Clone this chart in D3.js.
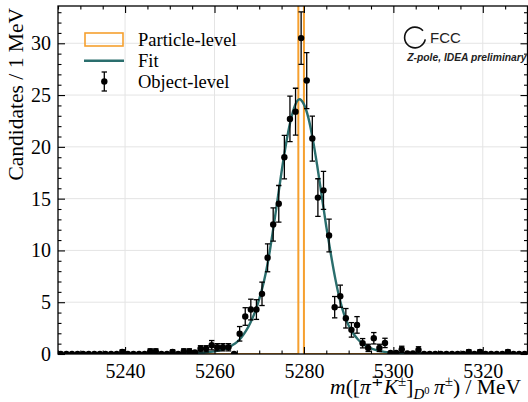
<!DOCTYPE html>
<html>
<head>
<meta charset="utf-8">
<script src="https://cdn.jsdelivr.net/npm/d3@7/dist/d3.min.js"></script>
<style>
  html, body { margin: 0; padding: 0; background: #fff; }
  svg { display: block; }
  .serif { font-family: "Liberation Serif", "Times New Roman", serif; }
  .sans { font-family: "Liberation Sans", Arial, sans-serif; }
</style>
</head>
<body>
<svg id="chart" width="528" height="402"></svg>
<script>
// Binning of the invariant-mass histogram (MeV)
const massRange = [5225, 5330];
const binWidth = 1.25;
const binEdges = d3.range(massRange[0], massRange[1] + 1e-9, binWidth);

// Object-level candidates per bin, with their uncertainties
const objectLevel = [
  0, 0, 0, 0, 0, 0, 0, 0, 0, 0,
  0, 0.2, 0, 0, 0, 0, 0.25, 0.25, 0, 0,
  0.2, 0, 0.25, 0.25, 0.15, 0.5, 0.5, 0.85, 0.65, 0.65,
  0.65, 0, 1.95, 3.62, 4.29, 4.29, 5.81, 9.29, 12.5, 14.5,
  19.0, 22.7, 23.4, 30.5, 26.4, 20.8, 15.1, 15.8, 11.45, 4.52,
  5.58, 3.45, 2.33, 2.81, 1.04, 0.59, 1.52, 0.59, 1.07, 0.1,
  0.1, 0.45, 0.05, 0.05, 0.4, 0, 0, 0, 0, 0,
  0, 0, 0, 0.2, 0, 0.2, 0, 0, 0, 0,
  0.2, 0, 0, 0
];
const objectLevelErr = [
  0, 0, 0, 0, 0, 0, 0, 0, 0, 0,
  0, 0.2, 0, 0, 0, 0, 0.25, 0.25, 0, 0,
  0.2, 0, 0.25, 0.25, 0.15, 0.3, 0.3, 0.45, 0.35, 0.35,
  0.35, 0, 0.7, 0.85, 1.0, 0.95, 1.13, 1.35, 1.6, 1.77,
  2.1, 2.2, 2.26, 2.53, 2.7, 2.17, 1.82, 1.84, 1.58, 1.03,
  1.07, 0.94, 0.7, 0.8, 0.45, 0.35, 0.55, 0.35, 0.45, 0.1,
  0.1, 0.3, 0.05, 0.05, 0.3, 0, 0, 0, 0, 0,
  0, 0, 0, 0.2, 0, 0.2, 0, 0, 0, 0,
  0.2, 0, 0, 0
];

// Particle-level candidates per bin (all in one bin)
const particleLevel = [
  0, 0, 0, 0, 0, 0, 0, 0, 0, 0,
  0, 0, 0, 0, 0, 0, 0, 0, 0, 0,
  0, 0, 0, 0, 0, 0, 0, 0, 0, 0,
  0, 0, 0, 0, 0, 0, 0, 0, 0, 0,
  0, 0, 0, 360, 0, 0, 0, 0, 0, 0,
  0, 0, 0, 0, 0, 0, 0, 0, 0, 0,
  0, 0, 0, 0, 0, 0, 0, 0, 0, 0,
  0, 0, 0, 0, 0, 0, 0, 0, 0, 0,
  0, 0, 0, 0
];

// Fitted line shape, sampled along the mass axis
const fitMass = [5225, 5245, 5250, 5255, 5258, 5260, 5262, 5263, 5264, 5265,
  5266, 5267, 5268, 5269, 5270, 5271, 5272, 5273, 5274, 5275,
  5276, 5277, 5278, 5279, 5280, 5281, 5282, 5283, 5284, 5285,
  5286, 5287, 5288, 5289, 5290, 5291, 5292, 5293, 5294, 5295,
  5296, 5298, 5300, 5305, 5330];
const fitValue = [0.0, 0.01, 0.03, 0.07, 0.14, 0.25, 0.45, 0.62, 0.85, 1.15,
  1.6, 2.2, 3.0, 4.0, 5.3, 6.9, 9.0, 11.7, 14.6, 17.6,
  20.3, 22.5, 24.0, 24.6, 24.1, 22.8, 20.7, 18.1, 15.2, 12.3,
  9.7, 7.3, 5.3, 3.8, 2.75, 2.0, 1.45, 1.05, 0.75, 0.55,
  0.4, 0.2, 0.1, 0.03, 0.0];

// Axis ticks
const xMajorTicks = [5240, 5260, 5280, 5300, 5320];
const xMinorStep = 5;
const yMajorTicks = [0, 5, 10, 15, 20, 25, 30];
const yMinorStep = 1;
const yMax = 33.6;

// Legend entries
const legendLabels = ["Particle-level", "Fit", "Object-level"];

const ORANGE = "#f6a02f";
const TEAL = "#2a6e6d";

const svg = d3.select("#chart");
const plot = { left: 58, right: 527.5, top: 6, bottom: 354 };

const x = d3.scaleLinear().domain(massRange).range([plot.left, plot.right]);
const y = d3.scaleLinear().domain([0, yMax]).range([plot.bottom, plot.top]);

svg.append("rect").attr("width", 528).attr("height", 402).attr("fill", "#fff");

svg.append("defs").append("clipPath").attr("id", "plotClip")
  .append("rect")
  .attr("x", plot.left).attr("y", plot.top)
  .attr("width", plot.right - plot.left).attr("height", plot.bottom - plot.top);

// Grid lines at the major ticks
const grid = svg.append("g").attr("stroke", "#e4e4e4").attr("stroke-width", 1);
grid.selectAll("line.gx").data(xMajorTicks).join("line")
  .attr("x1", d => x(d)).attr("x2", d => x(d))
  .attr("y1", plot.top).attr("y2", plot.bottom);
grid.selectAll("line.gy").data(yMajorTicks.filter(d => d > 0)).join("line")
  .attr("x1", plot.left).attr("x2", plot.right)
  .attr("y1", d => y(d)).attr("y2", d => y(d));

const marks = svg.append("g").attr("clip-path", "url(#plotClip)");

// Particle-level histogram as an unfilled step outline
const stepPoints = binEdges.map((e, i) => [e, i < particleLevel.length ? particleLevel[i] : particleLevel[particleLevel.length - 1]]);
marks.append("path")
  .attr("d", d3.line().x(d => x(d[0])).y(d => y(d[1])).curve(d3.curveStepAfter)(stepPoints))
  .attr("fill", "none").attr("stroke", ORANGE).attr("stroke-width", 2);

// Fit curve
marks.append("path")
  .attr("d", d3.line().x((d, i) => x(fitMass[i])).y(d => y(d)).curve(d3.curveMonotoneX)(fitValue))
  .attr("fill", "none").attr("stroke", TEAL).attr("stroke-width", 2.4);

// Object-level points with error bars
const pts = objectLevel.map((v, i) => ({ m: binEdges[i] + binWidth / 2, v, e: objectLevelErr[i] }));
const pg = marks.append("g").attr("stroke", "#000").attr("stroke-width", 1.3);
pg.selectAll("line.eb").data(pts).join("line")
  .attr("x1", d => x(d.m)).attr("x2", d => x(d.m))
  .attr("y1", d => y(d.v - d.e)).attr("y2", d => y(d.v + d.e));
pg.selectAll("line.capHi").data(pts).join("line")
  .attr("x1", d => x(d.m) - 2.7).attr("x2", d => x(d.m) + 2.7)
  .attr("y1", d => y(d.v + d.e)).attr("y2", d => y(d.v + d.e));
pg.selectAll("line.capLo").data(pts).join("line")
  .attr("x1", d => x(d.m) - 2.7).attr("x2", d => x(d.m) + 2.7)
  .attr("y1", d => y(d.v - d.e)).attr("y2", d => y(d.v - d.e));
marks.append("g").selectAll("circle").data(pts).join("circle")
  .attr("cx", d => x(d.m)).attr("cy", d => y(d.v)).attr("r", 3.2).attr("fill", "#000");

// Axes: inward ticks on all four sides
const xMinor = d3.range(massRange[0], massRange[1] + 1e-9, xMinorStep).filter(d => !xMajorTicks.includes(d));
const yMinor = d3.range(0, yMax, yMinorStep).filter(d => !yMajorTicks.includes(d));

function styleAxis(g) {
  g.attr("font-family", null).attr("font-size", null);
  g.select(".domain").remove();
  g.selectAll(".tick line").attr("stroke", "#000").attr("stroke-width", 1.1);
  g.selectAll(".tick text").attr("class", "serif").style("font-size", "20px").attr("fill", "#000");
}

svg.append("g").attr("transform", `translate(0,${plot.bottom})`)
  .call(d3.axisBottom(x).tickValues(xMajorTicks).tickFormat(d3.format("d")).tickSizeInner(-7).tickSizeOuter(0).tickPadding(10))
  .call(styleAxis);
svg.append("g").attr("transform", `translate(0,${plot.bottom})`)
  .call(d3.axisBottom(x).tickValues(xMinor).tickFormat("").tickSizeInner(-3.5).tickSizeOuter(0))
  .call(styleAxis);
svg.append("g").attr("transform", `translate(0,${plot.top})`)
  .call(d3.axisTop(x).tickValues(xMajorTicks).tickFormat("").tickSizeInner(-7).tickSizeOuter(0))
  .call(styleAxis);
svg.append("g").attr("transform", `translate(0,${plot.top})`)
  .call(d3.axisTop(x).tickValues(xMinor).tickFormat("").tickSizeInner(-3.5).tickSizeOuter(0))
  .call(styleAxis);

svg.append("g").attr("transform", `translate(${plot.left},0)`)
  .call(d3.axisLeft(y).tickValues(yMajorTicks).tickFormat(d3.format("d")).tickSizeInner(-7).tickSizeOuter(0).tickPadding(7))
  .call(styleAxis);
svg.append("g").attr("transform", `translate(${plot.left},0)`)
  .call(d3.axisLeft(y).tickValues(yMinor).tickFormat("").tickSizeInner(-3.5).tickSizeOuter(0))
  .call(styleAxis);
svg.append("g").attr("transform", `translate(${plot.right},0)`)
  .call(d3.axisRight(y).tickValues(yMajorTicks).tickFormat("").tickSizeInner(-7).tickSizeOuter(0))
  .call(styleAxis);
svg.append("g").attr("transform", `translate(${plot.right},0)`)
  .call(d3.axisRight(y).tickValues(yMinor).tickFormat("").tickSizeInner(-3.5).tickSizeOuter(0))
  .call(styleAxis);

// Frame
svg.append("rect")
  .attr("x", plot.left).attr("y", plot.top)
  .attr("width", plot.right - plot.left).attr("height", plot.bottom - plot.top)
  .attr("fill", "none").attr("stroke", "#000").attr("stroke-width", 1.3);

// Axis titles
svg.append("text").attr("class", "serif")
  .attr("transform", `translate(22.5,${plot.top + 2}) rotate(-90)`)
  .attr("text-anchor", "end")
  .style("font-size", "21.5px")
  .text("Candidates / 1 MeV");

const xt = svg.append("text").attr("class", "serif")
  .attr("x", 521).attr("y", 394)
  .attr("text-anchor", "end")
  .style("font-size", "21.5px");
xt.append("tspan").attr("font-style", "italic").text("m");
xt.append("tspan").text("([");
xt.append("tspan").attr("font-style", "italic").text("π");
xt.append("tspan").style("font-size", "15px").attr("dy", -8).text("∓");
xt.append("tspan").attr("font-style", "italic").attr("dy", 8).text("K");
xt.append("tspan").style("font-size", "15px").attr("dy", -8).text("±");
xt.append("tspan").attr("dy", 8).text("]");
xt.append("tspan").attr("font-style", "italic").style("font-size", "15px").attr("dy", 5).text("D");
xt.append("tspan").style("font-size", "10.5px").attr("dy", -5).text("0");
xt.append("tspan").text("\u2009");
xt.append("tspan").attr("font-style", "italic").text("π");
xt.append("tspan").style("font-size", "15px").attr("dy", -8).text("±");
xt.append("tspan").attr("dy", 8).text(") / MeV");

// Legend
const lg = svg.append("g");
lg.append("rect").attr("x", 85).attr("y", 33).attr("width", 38).attr("height", 13)
  .attr("fill", "none").attr("stroke", ORANGE).attr("stroke-width", 1.6);
lg.append("line").attr("x1", 84).attr("x2", 124).attr("y1", 60.7).attr("y2", 60.7)
  .attr("stroke", TEAL).attr("stroke-width", 2.4);
lg.append("line").attr("x1", 104.3).attr("x2", 104.3).attr("y1", 72).attr("y2", 91)
  .attr("stroke", "#000").attr("stroke-width", 1.3);
lg.append("line").attr("x1", 101.6).attr("x2", 107).attr("y1", 72).attr("y2", 72)
  .attr("stroke", "#000").attr("stroke-width", 1.3);
lg.append("line").attr("x1", 101.6).attr("x2", 107).attr("y1", 91).attr("y2", 91)
  .attr("stroke", "#000").attr("stroke-width", 1.3);
lg.append("circle").attr("cx", 104.3).attr("cy", 81.5).attr("r", 3.2).attr("fill", "#000");
const legendY = [46, 66.5, 88];
lg.selectAll("text").data(legendLabels).join("text")
  .attr("class", "serif").style("font-size", "18.5px")
  .attr("x", 138).attr("y", (d, i) => legendY[i]).text(d => d);

// Experiment logo and tag
const logo = svg.append("g");
logo.append("path")
  .attr("transform", "translate(415,37.5)")
  .attr("d", d3.arc().innerRadius(9.6).outerRadius(11.2)
    .startAngle(100 * Math.PI / 180).endAngle(410 * Math.PI / 180)())
  .attr("fill", "#111");
logo.append("text").attr("class", "sans").attr("x", 430).attr("y", 43)
  .style("font-size", "15px").attr("fill", "#222").text("FCC");
logo.append("text").attr("class", "sans").attr("x", 526.5).attr("y", 60.5).attr("text-anchor", "end")
  .style("font-size", "10.3px").attr("font-weight", "bold").attr("font-style", "italic")
  .attr("fill", "#222").text("Z-pole, IDEA preliminary");
</script>
</body>
</html>
